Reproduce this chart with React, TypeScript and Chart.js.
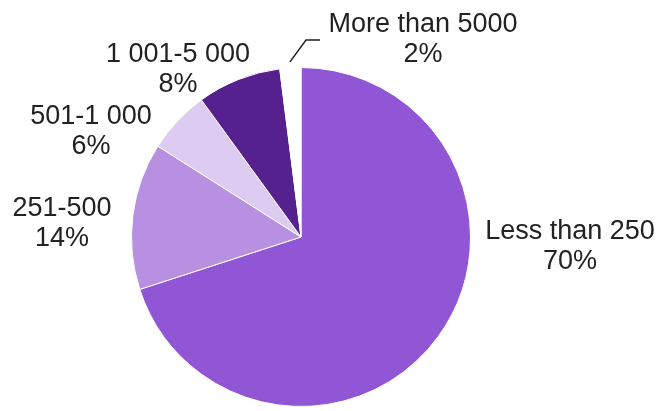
import React, { useEffect, useRef } from "react";
import { Chart, registerables } from "chart.js";

Chart.register(...registerables);

const categories = ["Less than 250", "251-500", "501-1 000", "1 001-5 000", "More than 5000"];
const values = [70, 14, 6, 8, 2];
const colors = ["#9156d6", "#b790e2", "#ddcbf2", "#55218f", "#ffffff"];

// label placement (offset of first text line centre from pie centre, in px)
const labelOffsets = [
  [269, -5],
  [-239, -28],
  [-210, -120],
  [-123, -182],
  [122, -212],
];

const labelPlugin = {
  id: "pieLabels",
  afterDatasetsDraw(chart: any) {
    const ctx = chart.ctx;
    const meta = chart.getDatasetMeta(0);
    const total = values.reduce((a, b) => a + b, 0);
    ctx.save();
    ctx.font = "27px 'Liberation Sans', Arial, sans-serif";
    ctx.fillStyle = "#222222";
    ctx.textAlign = "center";
    ctx.textBaseline = "middle";
    meta.data.forEach((arc: any, i: number) => {
      const cx = arc.x;
      const cy = arc.y;
      const [dx, dy] = labelOffsets[i];
      const pct = Math.round((values[i] / total) * 100) + "%";
      ctx.fillText(categories[i], cx + dx, cy + dy);
      ctx.fillText(pct, cx + dx, cy + dy + 30);
      if (i === 4) {
        const mid = (arc.startAngle + arc.endAngle) / 2;
        const r = arc.outerRadius + 6;
        const sx = cx + Math.cos(mid) * r;
        const sy = cy + Math.sin(mid) * r;
        ctx.strokeStyle = "#222222";
        ctx.lineWidth = 1.5;
        ctx.beginPath();
        ctx.moveTo(sx, sy);
        ctx.lineTo(cx + 5, cy - 197);
        ctx.lineTo(cx + 19, cy - 197);
        ctx.stroke();
      }
    });
    ctx.restore();
  },
};

export default function App() {
  const ref = useRef<HTMLCanvasElement>(null);
  useEffect(() => {
    if (!ref.current) return;
    const chart = new Chart(ref.current, {
      type: "pie",
      data: {
        labels: categories,
        datasets: [
          {
            data: values,
            backgroundColor: colors,
            borderColor: "#ffffff",
            borderWidth: 1,
          },
        ],
      },
      options: {
        animation: false,
        responsive: false,
        maintainAspectRatio: false,
        layout: { padding: { top: 67, bottom: 4, left: 101, right: 162 } },
        plugins: {
          legend: { display: false },
          tooltip: { enabled: false },
        },
      },
      plugins: [labelPlugin],
    });
    return () => chart.destroy();
  }, []);
  return (
    <div style={{ position: "fixed", left: 0, top: 0, width: 663, height: 411, background: "#fff" }}>
      <canvas ref={ref} width={663} height={411} style={{ width: 663, height: 411 }} />
    </div>
  );
}
